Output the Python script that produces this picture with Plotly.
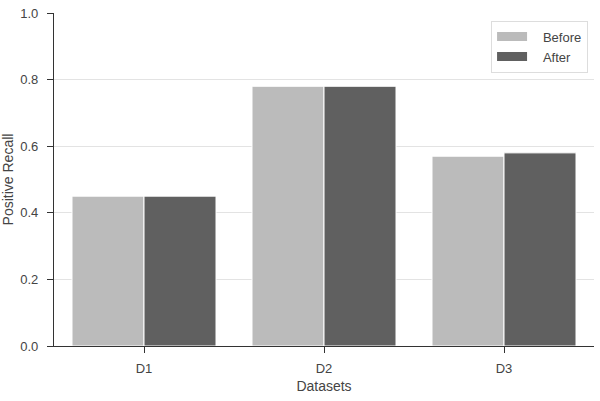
import plotly.graph_objects as go

categories = ["D1", "D2", "D3"]
before = [0.45, 0.78, 0.57]
after = [0.45, 0.78, 0.58]
yticks = [0.0, 0.2, 0.4, 0.6, 0.8, 1.0]
series_names = ["Before", "After"]
colors = ["#bbbbbb", "#606060"]

fig = go.Figure()
for name, vals, col in zip(series_names, [before, after], colors):
    fig.add_trace(go.Bar(x=categories, y=vals, name=name, showlegend=False, legendgroup=name,
                         marker=dict(color=col, line=dict(color="white", width=1))))
# legend proxies (wide patch look)
for name, col in zip(series_names, colors):
    fig.add_trace(go.Scatter(x=[None], y=[None], mode="lines", name="\u00a0\u00a0\u00a0" + name,
                             legendgroup=name, line=dict(color=col, width=9)))

fig.update_layout(
    width=600, height=401,
    margin=dict(l=54, r=6, t=13, b=55),
    plot_bgcolor="white", paper_bgcolor="white",
    barmode="group", bargap=0.2, bargroupgap=0,
    font=dict(family="Liberation Sans, Arial, sans-serif", size=13, color="#444444"),
    showlegend=True,
    legend=dict(x=0.989, y=0.977, xanchor="right", yanchor="top",
                bgcolor="white", bordercolor="#dddddd", borderwidth=1,
                font=dict(size=13, color="#444444"), tracegroupgap=0, itemwidth=30),
)
fig.update_xaxes(
    range=[-0.5, 2.5], showline=True, linecolor="#333333", linewidth=1.3,
    ticks="outside", ticklen=6, tickcolor="#333333", ticklabelstandoff=4,
    tickfont=dict(size=13, color="#444444"),
    showgrid=False, zeroline=False,
    title=dict(text="Datasets", font=dict(size=14, color="#444444"), standoff=6),
    automargin=False,
)
fig.update_yaxes(
    range=[0, 1.0], tickvals=yticks, ticktext=[f"{v:.1f}" for v in yticks],
    showline=True, linecolor="#333333", linewidth=1.3,
    ticks="outside", ticklen=6, tickcolor="#333333", ticklabelstandoff=6,
    tickfont=dict(size=13, color="#444444"),
    showgrid=True, gridcolor="#e3e3e3", gridwidth=1.3, zeroline=False,
    title=dict(text="Positive Recall", font=dict(size=14, color="#444444"), standoff=8),
    automargin=False,
)
fig.write_html("out.html")
